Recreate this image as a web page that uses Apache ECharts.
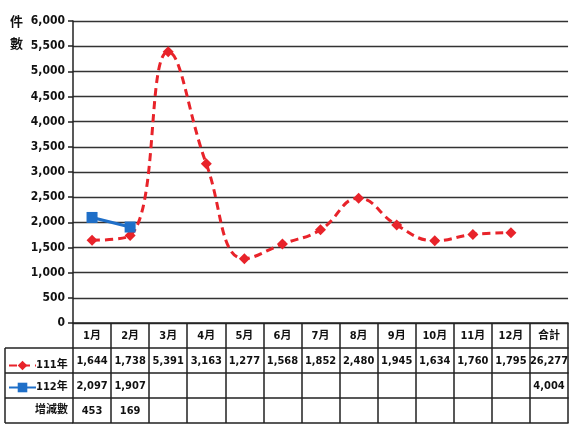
<!DOCTYPE html>
<html><head><meta charset="utf-8">
<script src="https://cdn.jsdelivr.net/npm/echarts@6/dist/echarts.min.js"></script>
<style>html,body{margin:0;padding:0;background:#fff}#c{width:571px;height:431px}</style>
</head><body><div id="c"></div>
<script>
const categories = ['1月','2月','3月','4月','5月','6月','7月','8月','9月','10月','11月','12月','合計'];
const yTicks = [0,500,1000,1500,2000,2500,3000,3500,4000,4500,5000,5500,6000];
const series111 = [1644,1738,5391,3163,1277,1568,1852,2480,1945,1634,1760,1795];
const total111 = 26277;
const series112 = [2097,1907];
const total112 = 4004;
const diffValues = [453,169];

const fmt = v => (v === '' || v == null) ? '' : Number(v).toLocaleString('en-US');
const pad = (arr, total) => { const r = categories.map((c,i)=> i < arr.length ? arr[i] : ''); r[categories.length-1] = total; return r; };
const row111 = pad(series111, total111);
const row112 = pad(series112, total112);
const rowDiff = pad(diffValues, '');

const FONT = "'DejaVu Sans Condensed','Noto Sans CJK TC',sans-serif";
const LINE = '#222';
const ROW = 25;
const labelStyle = {color:'#111', fontFamily:FONT, fontWeight:'bold', fontSize:11};

function rowAxis(k, rowArr, showLabels=true, showTicks=true){
  return {
    type:'category', data:categories, gridIndex:0, position:'bottom', offset:k*ROW,
    boundaryGap:true,
    axisLine:{show:true, onZero:false, lineStyle:{color:LINE, width:1.5}},
    axisTick:{show:showTicks, interval:0, length:ROW, lineStyle:{color:LINE, width:1.5}},
    axisLabel:{show:showLabels, interval:0, margin:13, verticalAlign:'middle', ...labelStyle,
      formatter:(v, i)=> rowArr ? (typeof rowArr[i]==='number' ? fmt(rowArr[i]) : rowArr[i]) : v},
    splitLine:{show:false}
  };
}

const chart = echarts.init(document.getElementById('c'), null, {renderer:'canvas'});
chart.setOption({
  animation:false,
  backgroundColor:'#fff',
  grid:{left:73, right:0, top:21, bottom:108, containLabel:false},
  legend:{
    left:3, top:355, orient:'vertical', itemGap:11, itemWidth:27, itemHeight:12,
    textStyle:{...labelStyle, padding:[0,0,0,-5]},
    data:['111年','112年']
  },
  xAxis:[
    rowAxis(0, null),
    rowAxis(1, row111),
    rowAxis(2, row112),
    rowAxis(3, rowDiff),
    rowAxis(4, null, false, false)
  ],
  yAxis:{
    type:'value', min:yTicks[0], max:yTicks[yTicks.length-1], interval:500,
    axisLine:{show:true, lineStyle:{color:LINE, width:1.5}},
    axisTick:{show:true, length:5, lineStyle:{color:LINE, width:1.5}},
    axisLabel:{...labelStyle, fontSize:12, margin:8, formatter:v=>fmt(v)},
    splitLine:{show:true, lineStyle:{color:'#333', width:1.3}}
  },
  series:[
    {name:'111年', type:'line', data:series111, smooth:0.45, xAxisIndex:0,
     symbol:'diamond', symbolSize:11,
     lineStyle:{color:'#e8232a', width:3, type:[8,5]},
     itemStyle:{color:'#e8232a'}},
    {name:'112年', type:'line', data:series112, smooth:false, xAxisIndex:0,
     symbol:'rect', symbolSize:11,
     lineStyle:{color:'#1f6fc8', width:3},
     itemStyle:{color:'#1f6fc8'}}
  ],
  graphic:[
    {type:'text', left:10, top:12, style:{text:'件\n數', ...labelStyle, fontSize:13, lineHeight:22, fill:'#111'}},
    {type:'text', right:571-68, top:405, style:{text:'增減數', ...labelStyle, fill:'#111'}},
    {type:'line', shape:{x1:5,y1:348,x2:73,y2:348}, style:{stroke:LINE, lineWidth:1.5}},
    {type:'line', shape:{x1:5,y1:373,x2:73,y2:373}, style:{stroke:LINE, lineWidth:1.5}},
    {type:'line', shape:{x1:5,y1:398,x2:73,y2:398}, style:{stroke:LINE, lineWidth:1.5}},
    {type:'line', shape:{x1:5,y1:423,x2:73,y2:423}, style:{stroke:LINE, lineWidth:1.5}},
    {type:'line', shape:{x1:5,y1:348,x2:5,y2:423}, style:{stroke:LINE, lineWidth:1.5}}
  ]
});
</script></body></html>
